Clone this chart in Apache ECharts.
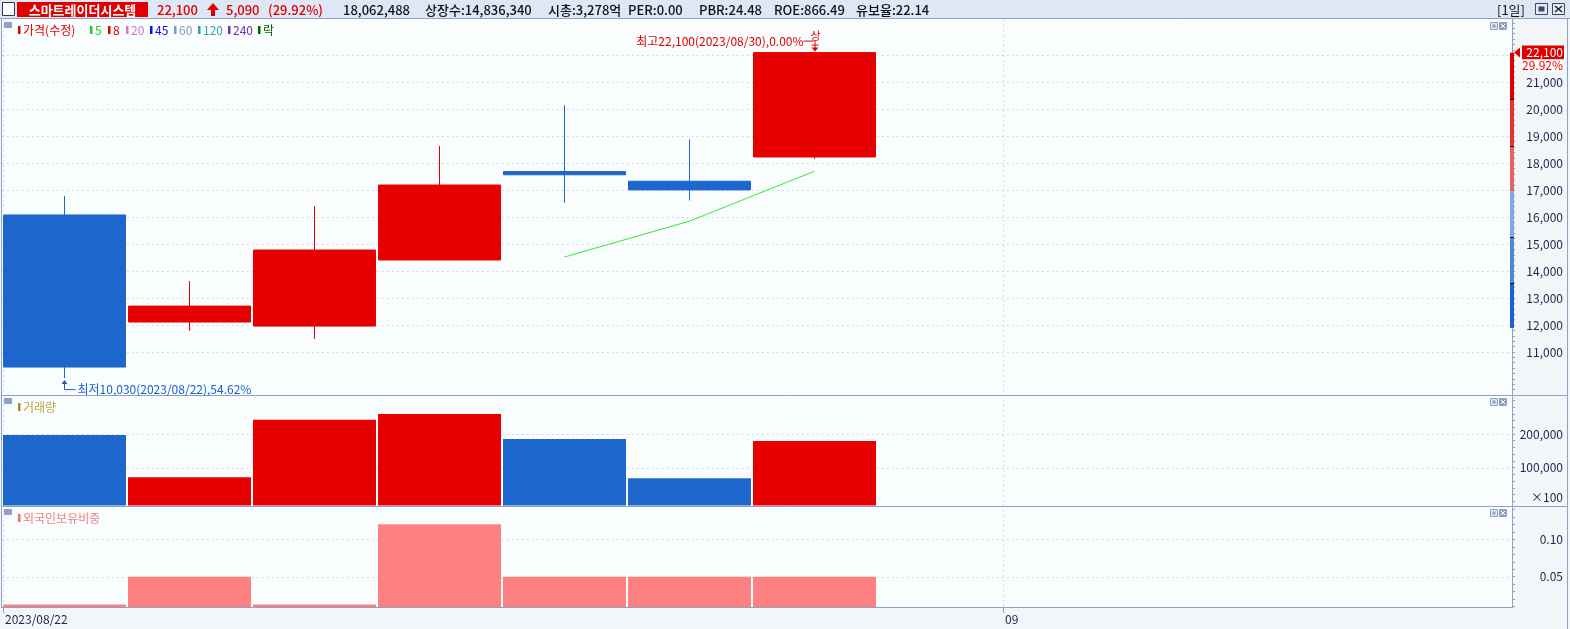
<!DOCTYPE html>
<html><head><meta charset="utf-8">
<script src="https://cdn.jsdelivr.net/npm/echarts@6/dist/echarts.min.js"></script>
<style>html,body{margin:0;padding:0;background:#f3f6f8;overflow:hidden}#c{width:1570px;height:629px}</style>
</head><body><div id="c"></div>
<script>
// ---------------- data ----------------
const categories = ['2023/08/22','2023/08/23','2023/08/24','2023/08/25','2023/08/28','2023/08/29','2023/08/30','2023/08/31','2023/09/01','2023/09/04','2023/09/05','2023/09/06'];
const opens  = [16080, 12110, 11960, 14410, 17690, 17330, 18230];
const closes = [10440, 12700, 14780, 17190, 17570, 17010, 22100];
const lows   = [10030, 11780, 11480, 14410, 16530, 16620, 18160];
const highs  = [16780, 13630, 16410, 18640, 20150, 18880, 22100];
const ma5    = [null, null, null, null, 14520, 15850, 17700];
const volumes = [197000, 72000, 242000, 259000, 185000, 69000, 179000];
const foreignRatio = [0.013, 0.050, 0.013, 0.120, 0.050, 0.050, 0.050];
const priceLabels = [11000,12000,13000,14000,15000,16000,17000,18000,19000,20000,21000];
const priceGridVals = [11000,12000,13000,14000,15000,16000,17000,18000,19000,20000,21000,22000];
const volumeLabels = [100000, 200000];
const foreignLabels = [0.05, 0.10];
const dateTickIndex = [0, 8];
const dateTickLabels = ['2023/08/22', '09'];
const rangeBands = [22100, 20380, 18640, 16960, 15260, 13560, 11890];
const lastPrice = '22,100', lastPct = '29.92%';
const headerName = '스마트레이더시스템';
const headerPrice = ['22,100', '5,090', '(29.92%)'];
const headerInfo = ['18,062,488', '상장수:14,836,340', '시총:3,278억', 'PER:0.00', 'PBR:24.48', 'ROE:866.49', '유보율:22.14'];
const priceLegend = ['가격(수정)','5','8','20','45','60','120','240','락'];
const highNote = '최고22,100(2023/08/30),0.00%';
const lowNote = '최저10,030(2023/08/22),54.62%';

// ---------------- layout / style ----------------
const FONT = '"Noto Sans CJK KR", "Noto Sans", sans-serif';
const AX = '#8ea2c4', LBL = '#1c2448';
const RED = '#e60000', BLUE = '#1c66cc';
const headerPriceX = [157, 226, 268];
const headerInfoX = [343, 425, 548, 628, 699, 774, 856];
const priceLegendX = [18, 90, 108, 126, 150, 174, 198, 228, 258];
const priceLegendColors = ['#e00000','#22cc22','#e00000','#cc77cc','#1010dd','#7a9cc6','#3aa0a0','#7030c0','#006600'];
const bandColors = ['#d80000','#e23434','#e46262','#80a8e2','#4c88da','#1c60cc'];

function seq(a, b, s){ const r=[]; for(let v=a; v<=b+1e-9; v+=s) r.push(+v.toFixed(6)); return r; }
function fmt(v){ return Math.round(v).toLocaleString('en-US'); }
function yAx(g, min, max, ticks, labels, f){
  return {type:'value', gridIndex:g, position:'right', offset:10, min:min, max:max, scale:false,
    splitLine:{show:false},
    axisLine:{show:true, onZero:false, lineStyle:{color:AX, width:1}},
    axisTick:{show:true, customValues:ticks, length:3, lineStyle:{color:AX}},
    axisLabel:{show:true, customValues:labels, formatter:f, align:'right', margin:51, color:LBL, fontSize:12, fontFamily:FONT}
  };
}

const chart = echarts.init(document.getElementById('c'), null, {renderer:'canvas'});
chart.setOption({
  animation:false,
  backgroundColor:'#f3f6f8',
  textStyle:{fontFamily:FONT},
  grid:[
    {left:2, top:20, width:1500, height:375},
    {left:2, top:396, width:1500, height:109.5},
    {left:2, top:506.5, width:1500, height:101.2}
  ],
  xAxis:[0,1,2].map(i => ({type:'category', gridIndex:i, data:categories, boundaryGap:true, show:false})),
  yAxis:[
    yAx(0, 9404, 23309, seq(9600, 23200, 200), priceLabels, v => fmt(v)),
    yAx(1, -12200, 312760, seq(0, 300000, 20000), volumeLabels, v => fmt(v)),
    yAx(2, 0.00856, 0.1439, seq(0.01, 0.14, 0.01), foreignLabels, v => (+v).toFixed(2))
  ],
  series:[
    {type:'candlestick', xAxisIndex:0, yAxisIndex:0, barWidth:122,
      data: opens.map((o,i) => [o, closes[i], lows[i], highs[i]]),
      itemStyle:{color:RED, color0:BLUE, borderColor:RED, borderColor0:BLUE, borderWidth:1}},
    {type:'line', xAxisIndex:0, yAxisIndex:0, data:ma5, symbol:'none', connectNulls:false,
      lineStyle:{color:'#36e836', width:1}},
    {type:'custom', xAxisIndex:1, yAxisIndex:1, data:volumes.map((v,i) => [i, v]), encode:{x:0, y:1},
      renderItem:function(params, api){
        const i = api.value(0), v = api.value(1);
        const p = api.coord([i, v]);
        const w = api.size([1, 0])[0];
        const cs = params.coordSys;
        const bottom = cs.y + cs.height;
        const up = closes[i] >= opens[i];
        return {type:'rect', shape:{x:p[0]-w/2+1, y:p[1], width:w-2, height:bottom-p[1]}, style:{fill: up ? RED : BLUE}};
      }},
    {type:'bar', xAxisIndex:2, yAxisIndex:2, data:foreignRatio, barWidth:123, clip:true,
      itemStyle:{color:'#ff8080'}}
  ]
});

// ---------------- decorations through the scales ----------------
const X = i => chart.convertToPixel({xAxisIndex:0}, i);
const Y = (g, v) => chart.convertToPixel({yAxisIndex:g}, v);
const slot = X(1) - X(0);
const els = [];
function line(x1,y1,x2,y2,stroke,z,dash,w){ els.push({type:'line', z:z, silent:true, shape:{x1,y1,x2,y2}, style:{stroke, lineWidth:w||1, lineDash:dash||null}}); }
function rect(x,y,w,h,fill,z,stroke){ els.push({type:'rect', z:z, silent:true, shape:{x,y,width:w,height:h}, style:{fill, stroke:stroke||null, lineWidth:1}}); }
function text(t,x,y,fill,font,align,z){ els.push({type:'text', z:z||100, silent:true, style:{text:t, x, y, fill, font:font||('12px '+FONT), textAlign:align||'left', align:align||'left', textVerticalAlign:'middle', verticalAlign:'middle'}}); }

// backgrounds
rect(1, 18, 1511, 590, '#f9fdfd', -100);
rect(0, 0, 1570, 18, '#dde7f5', -100);
// gridlines
priceGridVals.forEach(v => { const y = Math.round(Y(0, v)) + 0.5; line(2, y, 1511, y, '#c9d1da', -50, [1.5, 3.5]); });
volumeLabels.forEach(v => { const y = Math.round(Y(1, v)) + 0.5; line(2, y, 1511, y, '#c9d1da', -50, [1.5, 3.5]); });
foreignLabels.forEach(v => { const y = Math.round(Y(2, v)) + 0.5; line(2, y, 1511, y, '#c9d1da', -50, [1.5, 3.5]); });
dateTickIndex.forEach((idx, k) => {
  const x = Math.round(X(idx) - slot/2) + 1.5;
  line(x, 20, x, 607, '#c9d1da', -50, [1.5, 3.5]);
  line(x, 608, x, 613, AX, 100);
  text(dateTickLabels[k], x + 1.5, 619, LBL, '12px ' + FONT, 'left');
});
// borders
line(1.5, 18, 1.5, 608, AX, 100);
line(1512.5, 18, 1512.5, 608, AX, 100);
line(1567.5, 18, 1567.5, 629, AX, 100);
line(0, 18.5, 1570, 18.5, AX, 100);
line(1, 395.5, 1568, 395.5, AX, 100);
line(1, 506.5, 1568, 506.5, AX, 100);
line(1, 607.5, 1513, 607.5, AX, 100);

// header
rect(2.5, 2.5, 12, 13, '#ffffff', 100, '#303848');
rect(17, 2, 131, 15, '#e00000', 100);
text(headerName, 82.5, 10, '#ffffff', 'bold 13px ' + FONT, 'center');
headerPrice.forEach((t, i) => text(t, headerPriceX[i], 10, '#e00000', '500 13px ' + FONT, 'left'));
els.push({type:'polygon', z:100, silent:true, shape:{points:[[213,3],[207,10],[211,10],[211,16],[215,16],[215,10],[219,10]]}, style:{fill:'#e00000'}});
headerInfo.forEach((t, i) => text(t, headerInfoX[i], 10, '#111111', '500 13px ' + FONT, 'left'));
text('[1일]', 1497, 10, '#111111', '13px ' + FONT, 'left');
rect(1535.5, 3.5, 12, 11, '#e4ebf6', 100, '#404860');
rect(1538.5, 6.5, 6, 5, '#404860', 101);
rect(1552.5, 3.5, 12, 11, '#e4ebf6', 100, '#404860');
line(1555, 6, 1562, 12, '#202838', 101, null, 1.6);
line(1562, 6, 1555, 12, '#202838', 101, null, 1.6);

// panel icons and legends
[[22, 30], [398, 407], [509, 518]].forEach(([iy, ly]) => {
  rect(4, iy, 8, 6, AX, 100);
  rect(1490.5, iy + 0.5, 7, 7, '#dfe6f0', 100, AX);
  rect(1492.5, iy + 2.5, 3, 3, AX, 101);
  rect(1499.5, iy + 0.5, 7, 7, AX, 100, AX);
  line(1501, iy + 2, 1505, iy + 6, '#ffffff', 101);
  line(1505, iy + 2, 1501, iy + 6, '#ffffff', 101);
});
priceLegend.forEach((t, i) => {
  rect(priceLegendX[i], 26, 2.5, 8, priceLegendColors[i], 100);
  text(t, priceLegendX[i] + 5, 30, priceLegendColors[i], '12px ' + FONT, 'left');
});
rect(18, 403, 2.5, 8, '#a89020', 100);
text('거래량', 23, 407, '#c0a640', '12px ' + FONT, 'left');
rect(18, 514, 2.5, 8, '#f07070', 100);
text('외국인보유비중', 23, 518, '#f08080', '12px ' + FONT, 'left');

// unit
text('×100', 1563, 497, LBL, '12px ' + FONT, 'right');

// price range bar on the axis
for (let k = 0; k < bandColors.length; k++) {
  const y1 = Y(0, rangeBands[k]), y2 = Y(0, rangeBands[k + 1]);
  rect(1510, y1, 4, y2 - y1, bandColors[k], 110);
  if (k > 0 && k !== 3) line(1510, Math.round(y1) + 0.5, 1514, Math.round(y1) + 0.5, '#111111', 111);
}
const yl = Y(0, closes[6]);
els.push({type:'polygon', z:112, silent:true, shape:{points:[[1514, yl],[1520, yl - 5],[1520, yl + 5]]}, style:{fill:'#e00000'}});
rect(1522, yl - 7, 42, 14, '#e00000', 100);
text(lastPrice, 1563, yl, '#ffffff', '12px ' + FONT, 'right', 101);
rect(1522, yl + 7, 42, 12, '#ffffff', 100);
text(lastPct, 1563, yl + 13, '#e00000', '12px ' + FONT, 'right', 101);

// high annotation
const hx = X(6), hy = Y(0, highs[6]);
text(highNote, hx - 11, hy - 11, '#e00000', '12px ' + FONT, 'right');
line(hx - 11, hy - 11.5, hx - 1, hy - 11.5, '#e00000', 100);
text('상', hx + 1, hy - 17, '#e00000', '11px ' + FONT, 'center');
line(hx + 0.5, hy - 12, hx + 0.5, hy - 2, '#e00000', 100);
line(hx - 3, hy - 7.5, hx + 4, hy - 7.5, '#e00000', 100);
els.push({type:'polygon', z:100, silent:true, shape:{points:[[hx - 3, hy - 5],[hx + 4, hy - 5],[hx + 0.5, hy - 1]]}, style:{fill:'#e00000'}});

// low annotation
const lx = Math.round(X(0)) - 0.5, ly = Y(0, lows[0]);
line(lx, ly + 3, lx, ly + 11.5, '#1c5fcc', 100);
line(lx, ly + 11.5, lx + 11, ly + 11.5, '#1c5fcc', 100);
els.push({type:'polygon', z:100, silent:true, shape:{points:[[lx, ly + 2],[lx - 3, ly + 6],[lx + 3, ly + 6]]}, style:{fill:'#1c5fcc'}});
text(lowNote, lx + 13, ly + 11, '#1c5fcc', '12px ' + FONT, 'left');

chart.setOption({graphic:{elements:els}});
</script></body></html>
